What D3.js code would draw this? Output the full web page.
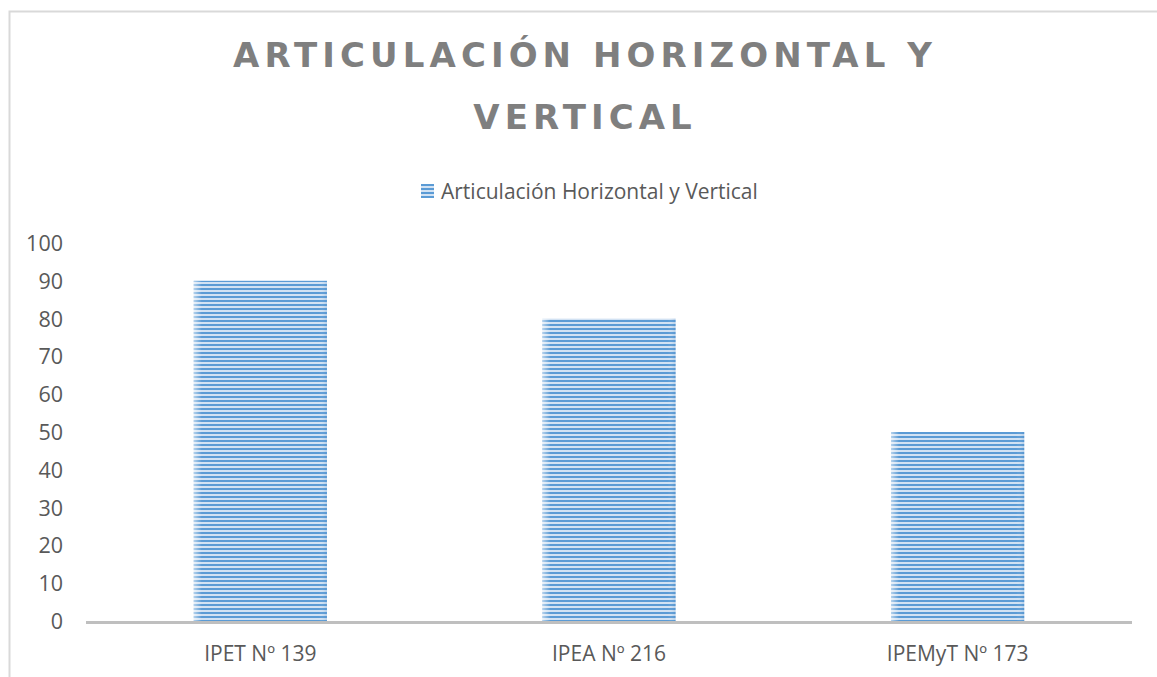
<!DOCTYPE html>
<html>
<head>
<meta charset="utf-8">
<script src="https://cdn.jsdelivr.net/npm/d3@7"></script>
<style>
  html, body { margin: 0; padding: 0; background: #fff; }
  svg { display: block; }
</style>
</head>
<body>
<svg id="chart" width="1157" height="677"></svg>
<script>
const categories = ["IPET Nº 139", "IPEA Nº 216", "IPEMyT Nº 173"];
const seriesName = "Articulación Horizontal y Vertical";
const values = [90, 80, 50];
const yTicks = [0, 10, 20, 30, 40, 50, 60, 70, 80, 90, 100];
const titleLines = ["ARTICULACIÓN HORIZONTAL Y", "VERTICAL"];

const svg = d3.select("#chart");
const plot = { left: 86, right: 1132, top: 243, bottom: 621 };
const FONT = "'Open Sans', sans-serif";

// frame
svg.append("rect").attr("x", 9.5).attr("y", 11.5).attr("width", 1200).attr("height", 800)
  .attr("fill", "#fff").attr("stroke", "#d9d9d9").attr("stroke-width", 2);

// defs: stripe pattern
const defs = svg.append("defs");
const pat = defs.append("pattern").attr("id", "stripes").attr("patternUnits", "userSpaceOnUse")
  .attr("width", 8).attr("height", 4);
pat.append("rect").attr("x", 0).attr("y", 0).attr("width", 8).attr("height", 4).attr("fill", "#d2e2f3");
pat.append("rect").attr("x", 0).attr("y", 0).attr("width", 8).attr("height", 2).attr("fill", "#5b9bd5");
const grad = defs.append("linearGradient").attr("id", "edgeGlow").attr("x1", "0").attr("x2", "1").attr("y1", "0").attr("y2", "0");
grad.append("stop").attr("offset", "0").attr("stop-color", "#fff").attr("stop-opacity", 0.55);
grad.append("stop").attr("offset", "0.06").attr("stop-color", "#fff").attr("stop-opacity", 0.0);
grad.append("stop").attr("offset", "0.94").attr("stop-color", "#fff").attr("stop-opacity", 0.0);
grad.append("stop").attr("offset", "1").attr("stop-color", "#3a7ab8").attr("stop-opacity", 0.2);

const x = d3.scaleBand().domain(categories).range([plot.left, plot.right]).paddingInner(0).paddingOuter(0);
const y = d3.scaleLinear().domain([0, 100]).range([plot.bottom, plot.top]);
const barW = x.bandwidth() * 0.382;

// Title (letter-spacing fitted so line 1 spans the same width as the reference)
const title = svg.append("text").attr("text-anchor", "start")
  .attr("font-family", "'DejaVu Sans', sans-serif").attr("font-weight", 700)
  .attr("font-size", 34).attr("fill", "#7f7f7f");
const t1 = title.append("tspan").attr("y", 67).text(titleLines[0]);
const t2 = title.append("tspan").attr("y", 129).text(titleLines[1]);
const n1 = titleLines[0].length;
const w1 = t1.node().getComputedTextLength();
const ls = (699 - w1) / (n1 - 1);
title.attr("letter-spacing", ls);
const cx = 582.5;
[t1, t2].forEach(t => {
  const w = t.node().getComputedTextLength() - ls; // drop trailing spacing
  t.attr("x", cx - w / 2);
});

// Legend
const lg = svg.append("g");
lg.append("rect").attr("x", 421).attr("y", 184).attr("width", 13).attr("height", 14).attr("fill", "url(#stripes)");
lg.append("text").attr("x", 441).attr("y", 199)
  .attr("font-family", FONT).attr("font-size", 21).attr("fill", "#595959")
  .text(seriesName);

// Y axis
const yAxis = d3.axisLeft(y).tickValues(yTicks).tickSize(0).tickPadding(0).tickFormat(d3.format("d"));
const yg = svg.append("g").attr("transform", "translate(63,0)").call(yAxis);
yg.select(".domain").remove();
yg.selectAll("text").attr("font-family", FONT).attr("font-size", 21.5)
  .attr("fill", "#595959").attr("dy", "0.35em");

// Bars
const bars = svg.append("g");
bars.selectAll("rect.bar").data(values).join("rect").attr("class", "bar")
  .attr("x", (d, i) => x(categories[i]) + (x.bandwidth() - barW) / 2)
  .attr("y", d => y(d)).attr("width", barW).attr("height", d => y(0) - y(d))
  .attr("fill", "url(#stripes)");
bars.selectAll("rect.glow").data(values).join("rect").attr("class", "glow")
  .attr("x", (d, i) => x(categories[i]) + (x.bandwidth() - barW) / 2)
  .attr("y", d => y(d)).attr("width", barW).attr("height", d => y(0) - y(d))
  .attr("fill", "url(#edgeGlow)");

// X axis
const xAxis = d3.axisBottom(x).tickSize(0).tickPadding(0);
const xg = svg.append("g").attr("transform", `translate(0,${plot.bottom})`).call(xAxis);
xg.select(".domain").attr("stroke", "#bfbfbf").attr("stroke-width", 3).attr("d", `M${plot.left},1.5H${plot.right}`);
xg.selectAll("text").attr("font-family", FONT).attr("font-size", 21)
  .attr("fill", "#595959").attr("y", 40).attr("dy", 0);
</script>
</body>
</html>
